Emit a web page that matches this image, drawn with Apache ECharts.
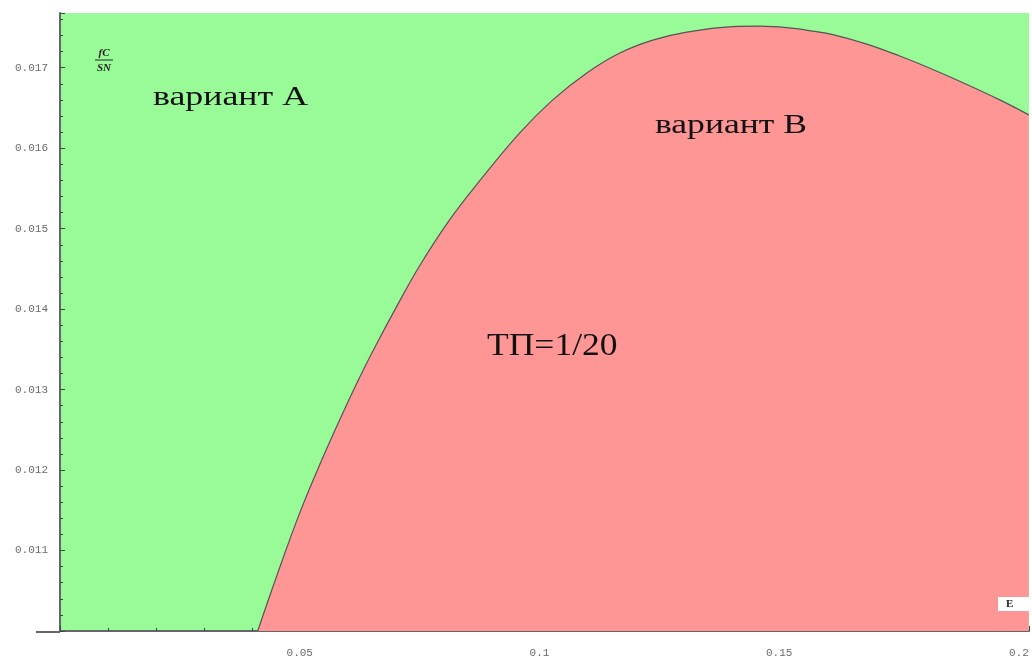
<!DOCTYPE html>
<html>
<head>
<meta charset="utf-8">
<script src="https://cdn.jsdelivr.net/npm/echarts@6/dist/echarts.min.js"></script>
<style>
html,body{margin:0;padding:0;background:#fff;}
#chart{width:1032px;height:659px;}
</style>
</head>
<body>
<div id="chart"></div>
<script>
// Boundary curve between variant A and variant B (E vs fC/SN)
var boundaryE = [0.04124, 0.04500, 0.05000, 0.05459, 0.05897, 0.06210, 0.06523, 0.07023, 0.07504, 0.08129, 0.08755, 0.09589, 0.10278, 0.10987, 0.11675, 0.12363, 0.13072, 0.14032, 0.14595, 0.15158, 0.15700, 0.16118, 0.16827, 0.17515, 0.18204, 0.18913, 0.19601, 0.20206];
var boundaryY = [0.010000, 0.010649, 0.011468, 0.012125, 0.012707, 0.013104, 0.013476, 0.014034, 0.014542, 0.015112, 0.015596, 0.016191, 0.016600, 0.016934, 0.017182, 0.017343, 0.017443, 0.017511, 0.017517, 0.017498, 0.017455, 0.017412, 0.017294, 0.017145, 0.016978, 0.016792, 0.016600, 0.016414];
var xRange = [0, 0.2021];
var yRange = [0.010, 0.01768];
var xTicks = ['0.05', '0.1', '0.15', '0.2'];
var yTicks = ['0.011', '0.012', '0.013', '0.014', '0.015', '0.016', '0.017'];
var labelA = 'вариант A';
var labelB = 'вариант B';
var labelTP = 'ТП=1/20';
var yName = ['fC', 'SN'];
var xName = 'E';

var chart = echarts.init(document.getElementById('chart'));
var data = boundaryE.map(function (e, i) { return [e, boundaryY[i]]; });
var axisColor = '#666';
var labelFont = { fontFamily: 'Liberation Mono', fontSize: 11, color: '#6a6a6a' };

chart.setOption({
  animation: false,
  backgroundColor: '#fff',
  grid: { left: 60, top: 13, right: 3, bottom: 27, show: true, backgroundColor: '#98fb98', borderWidth: 0 },
  xAxis: {
    type: 'value', min: xRange[0], max: xRange[1], interval: 0.05,
    splitLine: { show: false },
    axisLine: { show: true, onZero: false, lineStyle: { color: axisColor, width: 2 } },
    axisTick: { show: true, inside: true, length: 5, lineStyle: { color: '#444' } },
    minorTick: { show: true, splitNumber: 5, length: 3, lineStyle: { color: '#444' } },
    axisLabel: Object.assign({ showMinLabel: false, margin: 17,
      formatter: function (v) { var s = String(+v.toFixed(2)); return xTicks.indexOf(s) >= 0 ? s : ''; } }, labelFont)
  },
  yAxis: {
    type: 'value', min: yRange[0], max: yRange[1], interval: 0.001,
    splitLine: { show: false },
    axisLine: { show: true, onZero: false, lineStyle: { color: axisColor, width: 2 } },
    axisTick: { show: true, inside: true, length: 5, lineStyle: { color: '#444' } },
    minorTick: { show: true, splitNumber: 5, length: 3, lineStyle: { color: '#444' } },
    axisLabel: Object.assign({ showMinLabel: false, showMaxLabel: false, margin: 12,
      formatter: function (v) { var s = v.toFixed(3); return yTicks.indexOf(s) >= 0 ? s : ''; } }, labelFont)
  },
  series: [{
    type: 'line', data: data, smooth: 0.4, showSymbol: false,
    lineStyle: { color: '#555', width: 1.2 },
    areaStyle: { color: '#ff9696', opacity: 1, origin: 'start' },
    z: 1
  }],
  graphic: [
    { type: 'line', shape: { x1: 36, y1: 632, x2: 60, y2: 632 }, style: { stroke: axisColor, lineWidth: 2 }, z: 10 },
    { type: 'text', x: 153, y: 84, scaleX: 1.28, style: { text: labelA, font: '28px "Liberation Serif"', fill: '#111' }, z: 10 },
    { type: 'text', x: 655, y: 112, scaleX: 1.27, style: { text: labelB, font: '28px "Liberation Serif"', fill: '#111' }, z: 10 },
    { type: 'text', x: 487, y: 331, scaleX: 1.11, style: { text: labelTP, font: '32px "Liberation Serif"', fill: '#111' }, z: 10 },
    { type: 'text', x: 104, y: 53, style: { text: yName[0], font: 'italic bold 11px "Liberation Serif"', fill: '#222', align: 'center', verticalAlign: 'middle' }, z: 10 },
    { type: 'line', shape: { x1: 95, y1: 60, x2: 113, y2: 60 }, style: { stroke: '#222', lineWidth: 1 }, z: 10 },
    { type: 'text', x: 104, y: 68, style: { text: yName[1], font: 'italic bold 11px "Liberation Serif"', fill: '#222', align: 'center', verticalAlign: 'middle' }, z: 10 },
    { type: 'rect', shape: { x: 998, y: 597, width: 34, height: 14 }, style: { fill: '#fff' }, z: 10 },
    { type: 'text', x: 1006, y: 604, style: { text: xName, font: 'bold 11px "Liberation Serif"', fill: '#222', verticalAlign: 'middle' }, z: 11 }
  ]
});
</script>
</body>
</html>
